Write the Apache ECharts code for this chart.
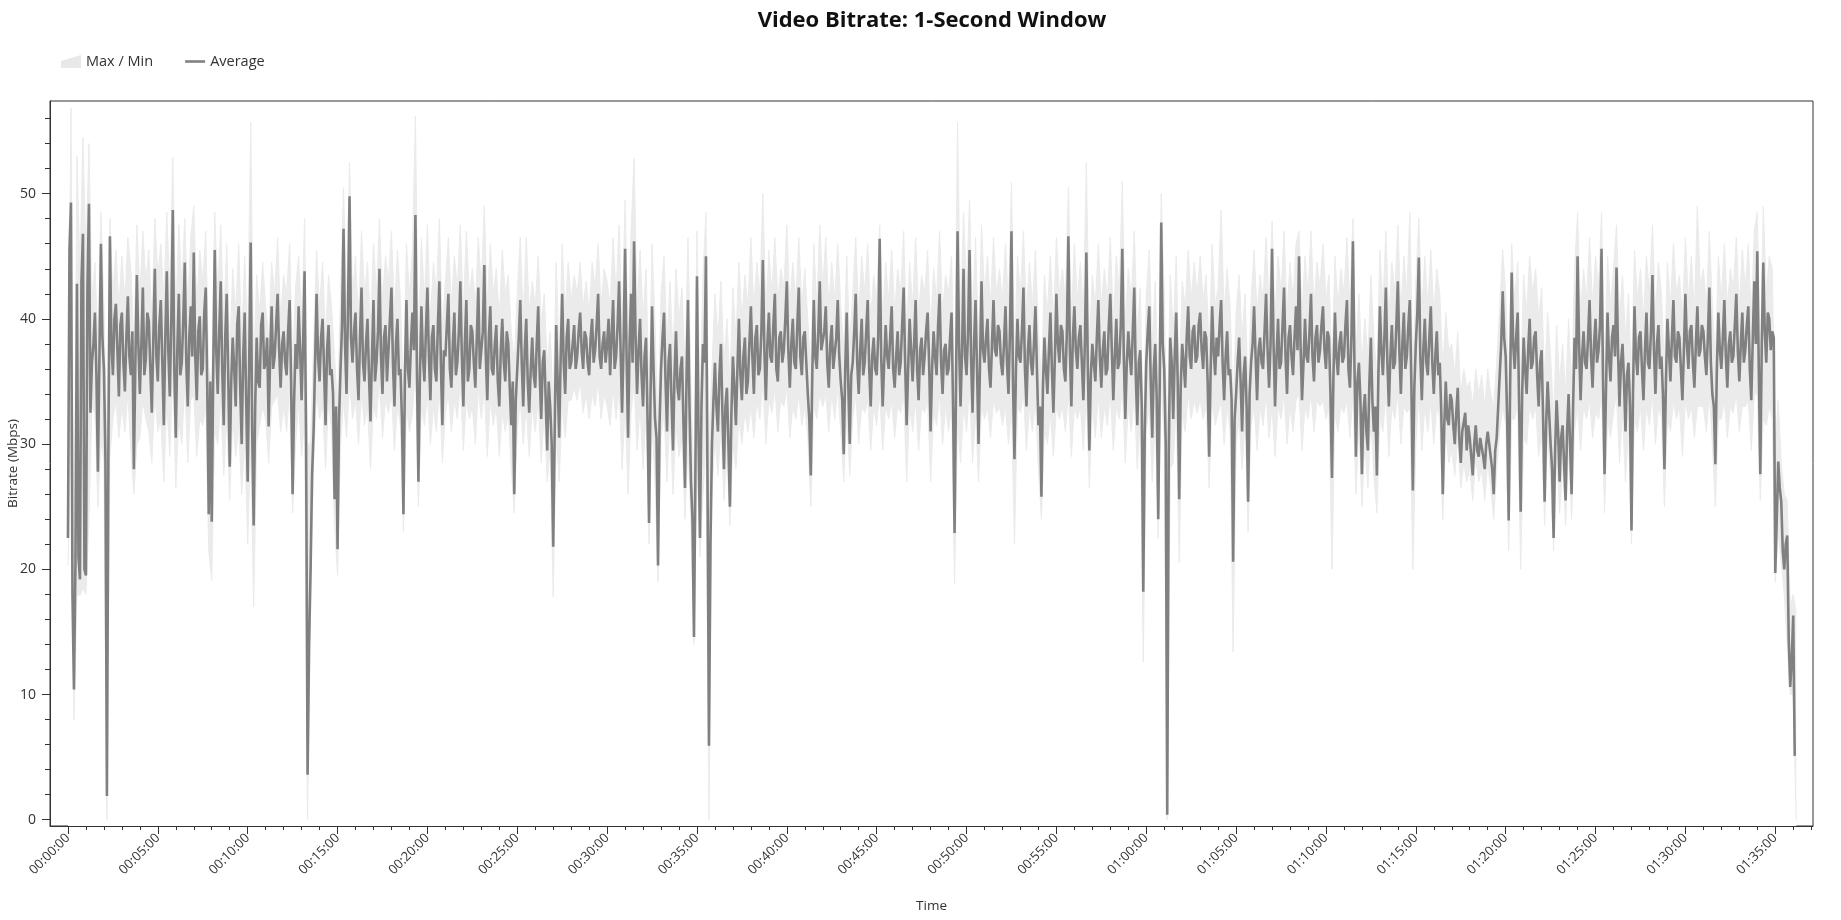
<!DOCTYPE html>
<html><head><meta charset="utf-8">
<script src="https://cdn.jsdelivr.net/npm/echarts@6/dist/echarts.min.js"></script>
<style>html,body{margin:0;padding:0;background:#fff}#chart{width:1841px;height:920px}</style>
</head><body><div id="chart"></div>
<script>
const avgStepSec = 5;
const bandStepSec = 10;

// Average bitrate (Mbps), one row per minute (12 samples each, 5 s apart)
const avgMbps = [
22.5,45.5,49.3,18.0,10.4,20.5,42.8,21.0,19.2,43.0,46.8,20.0,
19.5,42.5,49.2,32.5,36.5,38.0,40.5,35.5,27.8,37.0,46.0,38.5,
36.0,29.0,1.9,30.0,46.6,38.0,35.5,40.0,41.2,37.5,33.8,39.5,
40.5,36.5,34.2,38.5,41.8,37.0,35.5,39.0,28.0,36.5,43.5,38.0,
34.0,38.0,42.5,35.5,36.8,40.5,39.8,36.0,32.5,38.5,44.0,37.0,
35.0,39.5,41.5,36.5,31.5,38.5,43.8,37.5,33.8,40.0,48.7,36.0,
30.5,37.5,42.0,35.5,36.5,40.0,44.5,36.5,33.0,38.5,41.0,37.0,
45.3,37.0,33.5,39.0,40.2,35.5,36.0,40.5,42.5,34.5,24.4,35.0,
23.8,36.0,45.5,37.5,34.0,39.0,43.0,36.0,31.5,38.5,42.0,35.5,
28.2,35.0,38.5,36.0,33.0,39.5,41.0,34.5,30.0,37.0,40.5,33.5,
27.0,36.5,46.1,31.0,23.5,33.0,38.5,35.0,34.5,39.5,40.5,36.0,
36.5,38.5,31.4,37.0,41.0,36.0,37.0,39.5,42.0,37.5,34.5,38.0,
39.0,36.5,35.5,39.0,41.5,35.0,26.0,33.5,38.0,36.0,41.0,37.5,
33.5,38.0,43.8,30.0,3.6,14.0,20.0,27.5,31.0,36.5,42.0,37.0,
35.0,38.5,40.0,36.0,31.5,37.5,39.5,35.5,36.0,34.0,25.6,33.0,
21.6,32.0,36.0,39.5,47.2,38.0,34.0,41.0,49.8,38.5,36.5,39.0,
40.5,36.0,33.5,38.5,42.5,36.5,35.0,38.0,40.0,35.5,31.8,37.0,
41.5,35.0,36.5,39.0,44.0,37.0,34.0,38.5,39.5,35.0,37.5,40.0,
42.5,36.5,33.0,38.0,40.0,35.5,36.0,32.0,24.4,35.5,41.5,36.0,
34.5,38.0,40.5,37.5,48.3,36.0,27.0,35.5,41.0,37.0,35.0,39.0,
42.5,37.0,33.5,38.5,39.5,36.0,35.0,39.5,43.0,36.5,31.5,37.5,
37.0,39.5,42.0,36.0,34.5,38.0,40.5,35.5,36.5,39.0,43.0,37.0,
33.0,38.0,41.5,35.0,36.0,39.5,39.0,36.5,34.5,38.5,42.5,36.0,
36.0,39.0,44.3,37.0,33.5,38.5,41.0,36.0,35.5,38.0,39.5,35.0,
33.0,37.5,40.0,36.5,35.0,39.0,38.0,34.5,31.5,35.0,26.0,33.5,
36.0,38.5,41.5,36.5,33.0,37.5,40.0,35.0,32.5,36.0,38.5,35.5,
34.5,38.0,41.0,35.5,32.0,36.5,37.5,33.5,29.5,35.0,33.0,30.0,
21.8,31.0,39.5,35.0,30.5,37.0,42.0,36.5,34.0,38.5,40.0,36.0,
36.5,38.0,39.5,36.0,37.0,39.0,40.5,37.5,36.0,39.0,38.5,36.5,
35.5,38.5,40.0,36.5,37.5,39.5,42.0,37.0,36.0,38.0,39.0,36.5,
38.0,40.0,35.5,38.5,41.5,36.0,37.0,39.5,43.0,37.5,32.5,38.0,
45.6,37.0,30.5,38.0,42.0,36.5,46.2,38.5,34.0,37.5,40.0,35.5,
33.0,37.0,38.5,32.0,23.7,34.0,41.0,36.0,32.0,30.5,20.3,31.5,
36.0,38.5,40.5,35.0,31.0,36.5,38.0,33.5,29.5,35.5,39.0,34.5,
33.5,36.0,37.0,31.5,26.5,35.0,41.5,33.0,27.0,24.0,14.6,28.5,
43.4,31.0,22.5,33.0,38.0,36.5,45.0,28.0,5.9,22.0,30.0,33.5,
36.5,33.0,31.0,35.5,38.0,32.5,28.0,33.0,34.5,30.0,25.0,32.5,
37.0,34.5,31.5,36.0,40.0,35.5,33.5,37.0,38.5,34.0,35.0,38.0,
41.0,37.0,34.0,38.5,39.5,35.5,36.0,39.0,44.7,37.5,33.5,38.0,
40.5,37.0,36.5,39.5,42.0,36.0,35.0,38.5,39.0,36.5,37.5,40.0,
43.0,37.5,34.5,38.0,40.0,36.5,36.0,39.5,42.5,37.0,35.5,38.5,
39.0,36.5,34.0,32.0,27.5,35.5,41.5,37.0,36.0,39.0,43.0,37.5,
37.5,39.0,41.0,36.5,34.5,38.0,39.5,36.0,36.0,38.5,41.5,37.0,
35.0,33.5,29.2,36.0,40.5,35.0,30.0,35.5,36.5,39.0,42.0,36.5,
34.0,37.5,40.0,35.5,36.5,39.0,41.5,36.0,33.0,37.0,38.5,36.0,
35.5,38.5,46.4,37.0,33.0,36.5,39.5,37.0,36.0,38.5,41.0,36.0,
34.5,37.0,39.0,35.5,36.5,39.5,42.5,36.5,31.5,36.0,40.0,37.5,
35.0,38.0,41.5,36.0,33.5,37.5,38.5,35.5,37.0,39.0,40.5,36.5,
31.0,36.0,39.0,37.0,35.5,39.5,42.0,36.5,34.0,37.5,38.0,35.5,
36.0,38.5,40.5,33.0,22.9,35.0,47.0,38.0,33.0,37.5,44.0,37.0,
35.5,39.0,45.5,37.0,32.5,38.0,41.5,36.0,30.0,36.5,43.0,37.5,
36.5,38.5,40.0,36.0,34.5,38.0,41.5,37.5,37.0,39.5,39.0,36.5,
35.5,38.0,41.0,36.5,34.0,39.0,47.0,35.0,28.8,36.0,40.0,37.0,
36.5,39.0,42.5,36.0,33.0,37.5,39.5,36.5,35.5,38.0,41.0,36.0,
31.5,33.0,25.8,34.5,38.5,36.0,34.0,37.5,40.5,36.0,32.5,37.0,
42.0,38.0,36.5,39.5,39.0,36.0,35.0,39.0,46.6,37.5,33.0,38.5,
41.0,37.5,36.0,38.5,39.5,36.5,33.5,38.0,45.3,36.0,29.5,35.5,
38.0,36.5,35.0,38.5,41.5,37.0,34.5,37.5,39.0,35.5,36.0,39.5,
42.0,37.5,33.5,37.0,40.0,36.0,36.5,39.5,45.6,37.0,32.0,36.5,
39.0,37.0,35.5,39.0,42.5,35.5,31.5,36.5,37.5,33.0,18.2,31.0,
36.5,39.0,41.0,35.0,30.5,36.0,38.0,33.5,24.0,35.0,47.7,38.0,
36.0,30.0,0.4,29.0,38.5,36.5,32.0,37.0,40.5,35.0,25.6,34.5,
38.0,36.5,34.5,38.5,41.0,37.0,36.0,39.0,39.5,36.5,37.0,39.5,
40.5,37.5,36.0,39.0,38.5,35.0,29.0,36.0,41.0,37.5,35.5,38.5,
37.0,39.5,41.5,36.5,33.5,37.0,39.0,35.5,36.0,33.5,20.6,32.0,
34.0,36.5,38.5,35.0,31.0,35.5,37.0,33.0,25.4,34.0,36.5,38.0,
41.0,37.0,33.5,37.5,38.5,36.5,36.0,39.0,42.0,37.5,34.5,38.0,
45.6,38.0,33.0,37.0,40.0,36.0,36.5,39.5,42.5,37.0,34.0,38.5,
39.5,37.0,35.5,38.5,41.0,37.5,45.0,38.0,33.5,36.5,40.0,37.0,
36.5,39.0,42.0,37.0,35.0,38.5,39.5,36.5,37.5,39.5,41.0,37.5,
36.0,39.0,38.5,34.0,27.3,35.5,40.5,37.0,35.5,38.0,39.0,36.5,
37.0,39.5,41.5,36.0,34.5,38.5,46.2,36.5,29.0,35.0,36.5,33.5,
27.6,32.5,34.0,31.0,29.5,35.0,38.5,33.5,31.0,33.0,27.5,35.5,
41.0,37.5,35.5,38.5,42.5,36.5,33.0,37.0,39.5,36.0,36.5,39.5,
43.0,37.5,34.0,38.0,40.5,36.0,37.0,39.5,41.5,35.0,26.3,34.5,
38.0,40.5,44.9,37.0,33.5,37.5,40.0,36.5,35.5,38.5,41.0,36.5,
34.0,37.0,39.0,35.5,36.5,32.5,26.0,31.5,35.0,32.0,31.5,34.0,
33.5,31.5,30.0,32.5,34.5,30.5,28.5,31.0,31.0,32.5,29.5,31.5,
30.5,29.0,27.5,30.0,31.5,29.5,29.0,30.5,30.5,29.0,28.0,30.0,
31.0,30.0,29.0,28.0,26.0,29.5,30.5,33.0,35.5,38.0,42.2,38.5,
37.0,32.0,23.9,35.0,43.7,38.0,36.0,38.5,40.5,33.0,24.6,34.0,
38.5,36.0,34.0,37.5,40.0,36.0,36.5,38.5,39.0,35.5,33.0,36.5,
37.5,32.0,25.4,31.5,35.0,32.5,30.0,28.0,22.5,29.5,33.5,31.0,
27.0,30.5,31.5,28.5,25.5,31.0,34.0,30.0,26.0,33.0,38.5,36.0,
45.0,38.0,33.5,37.0,39.0,36.5,36.0,38.5,41.5,37.0,34.5,38.0,
40.0,36.5,37.5,39.5,45.6,35.0,27.6,34.5,40.5,37.0,35.0,38.5,
39.5,37.0,44.1,37.5,33.0,36.5,38.0,35.0,31.0,35.5,36.5,33.0,
23.1,34.0,41.0,37.0,35.5,38.5,39.0,36.0,33.5,37.5,40.5,36.5,
36.0,39.0,43.5,37.5,34.0,38.0,39.5,36.0,37.0,34.0,28.0,35.0,
40.0,37.5,35.0,38.5,41.5,37.0,36.5,39.0,38.5,36.0,33.5,37.5,
42.0,38.0,36.0,39.0,39.5,36.5,34.5,38.0,41.0,37.0,37.5,39.5,
39.0,37.0,35.5,38.5,42.5,36.5,34.0,33.0,28.4,36.0,40.5,37.5,
36.0,38.5,41.5,37.0,34.5,38.0,39.0,36.5,37.0,39.5,42.0,37.5,
35.0,38.0,40.5,36.5,37.5,39.5,41.0,36.0,33.5,38.5,43.0,38.0,
45.4,36.0,27.6,38.0,44.5,39.0,36.5,40.5,40.0,37.5,39.0,38.5,
19.7,24.0,28.6,26.5,25.4,21.5,20.0,22.0,22.7,14.4,10.6,12.8,
16.3,5.1
];

// Per-sample maximum (Mbps), 10 s apart
const maxMbps = [
30.0,56.8,20.5,53.0,44.0,54.5,
45.0,54.0,41.5,44.5,38.0,48.5,
41.0,30.0,48.0,42.0,45.5,41.0,
45.0,41.5,46.5,44.0,38.0,47.5,
42.0,47.0,43.0,45.5,40.0,48.0,
43.5,46.0,41.5,48.5,42.0,52.9,
40.0,47.5,42.5,48.0,41.0,46.5,
49.0,41.0,45.5,43.0,47.0,36.0,
35.0,48.5,42.0,47.5,40.0,46.0,
37.0,44.0,40.5,46.0,38.5,45.0,
38.0,55.7,36.0,43.5,40.5,44.5,
41.0,38.5,44.5,42.0,46.5,40.0,
43.5,42.0,46.0,36.5,42.5,45.0,
40.0,48.0,30.0,30.0,38.0,45.5,
41.0,44.5,38.5,43.5,41.0,37.0,
33.0,42.0,50.5,41.0,52.5,42.0,
45.0,40.0,47.0,42.0,44.5,39.5,
46.0,42.0,48.0,41.5,45.0,43.0,
47.0,40.5,45.5,41.5,34.0,46.0,
42.0,45.5,56.2,37.5,46.5,41.5,
47.5,40.0,44.5,42.0,48.0,39.0,
43.0,46.5,41.0,45.0,42.5,47.5,
40.5,47.0,42.0,44.0,41.0,46.5,
42.5,49.0,41.0,46.0,42.0,44.0,
40.0,45.5,42.0,43.5,39.0,36.5,
42.0,46.5,40.0,46.5,40.5,43.0,
41.0,45.0,39.5,42.0,36.5,39.0,
33.0,44.5,37.0,46.0,40.5,44.5,
41.5,43.5,42.0,44.5,41.0,43.0,
40.5,44.5,42.5,46.0,41.0,44.0,
43.0,41.0,46.5,42.0,47.5,39.5,
49.5,38.0,47.0,52.8,41.0,45.5,
40.0,44.0,34.0,46.0,39.5,31.0,
42.0,45.0,38.0,43.0,37.0,44.0,
40.0,42.5,36.0,46.5,35.0,26.0,
47.0,33.0,43.5,48.5,30.0,36.0,
42.0,38.5,43.0,36.5,40.0,35.0,
42.5,38.5,44.5,40.0,43.5,41.0,
46.5,41.0,44.5,42.0,50.0,40.5,
45.5,42.0,46.5,41.5,44.0,42.5,
47.5,41.0,44.5,41.5,46.5,41.0,
44.0,40.0,36.0,46.0,41.0,47.5,
42.5,46.5,41.0,44.5,41.5,46.0,
41.0,37.5,45.0,38.0,42.0,46.5,
40.5,45.0,42.0,46.0,40.0,43.5,
41.5,47.5,40.0,44.5,41.5,45.5,
40.5,44.0,42.0,47.0,39.0,44.5,
41.0,46.5,40.5,43.5,42.0,45.5,
39.0,44.0,41.5,47.0,40.5,43.5,
42.0,45.0,34.0,55.7,40.0,48.5,
42.5,49.5,40.0,46.5,38.0,47.5,
42.0,45.0,41.0,46.5,42.0,44.0,
41.5,46.0,41.0,50.9,37.0,45.0,
42.0,47.0,40.5,44.5,41.0,45.5,
39.0,35.0,43.5,40.5,45.0,39.5,
46.5,42.0,44.0,41.5,50.5,40.0,
46.0,41.5,44.5,40.5,52.5,38.0,
43.5,41.0,46.0,41.0,44.0,41.5,
46.5,40.0,45.0,42.0,51.0,39.5,
44.0,41.5,47.0,39.0,42.5,30.0,
42.0,45.5,38.0,43.0,34.0,50.0,
42.0,30.0,43.5,39.0,45.0,35.0,
43.0,41.0,45.5,41.5,44.5,42.0,
45.0,41.5,43.5,37.5,46.0,41.0,
42.5,48.7,40.5,44.0,41.0,33.0,
40.5,43.5,38.5,42.0,34.0,41.5,
45.5,40.5,43.5,41.5,46.5,41.0,
47.8,40.0,45.0,42.0,47.0,40.5,
44.5,41.5,46.0,47.0,40.5,45.0,
42.0,47.0,41.0,44.5,42.5,46.0,
41.5,43.5,36.0,45.0,41.0,44.0,
42.0,46.5,41.0,48.0,37.0,42.0,
36.5,40.0,37.0,43.5,38.5,35.5,
45.5,41.0,47.0,40.0,44.5,42.0,
47.5,40.5,45.0,42.0,48.5,36.0,
43.0,48.0,40.5,45.0,41.0,45.5,
40.5,44.0,42.0,36.0,40.5,37.5,
38.0,35.5,39.0,34.0,36.0,34.5,
35.0,33.0,36.0,34.0,35.5,33.0,
36.0,34.0,33.0,36.5,41.0,45.5,
42.0,35.0,46.0,41.5,44.5,35.0,
43.5,40.5,45.0,42.0,44.0,40.0,
42.5,35.0,40.5,37.0,32.0,39.5,
35.0,38.0,34.0,40.0,34.5,44.0,
48.5,40.5,44.0,41.5,46.5,41.0,
45.0,42.5,48.5,36.0,45.0,41.0,
44.0,47.5,40.0,43.5,38.5,42.0,
35.0,45.5,41.5,44.0,40.0,45.0,
42.0,47.5,40.5,44.5,42.0,36.0,
44.5,41.0,46.0,42.0,43.5,40.0,
46.5,41.5,45.0,40.5,49.0,42.5,
44.0,41.0,47.0,41.0,36.5,45.0,
41.5,46.0,41.0,44.0,42.5,46.5,
41.0,45.5,42.5,46.0,40.0,47.0,
48.5,36.0,49.0,42.0,45.0,44.0,
30.0,33.5,28.5,26.0,25.5,17.0,
18.0,16.5
];

// Per-sample minimum (Mbps), 10 s apart
const minMbps = [
20.3,31.0,8.0,18.0,17.9,18.5,
18.0,24.0,33.0,32.5,25.0,30.5,
28.5,0.0,29.0,32.0,33.5,30.5,
33.0,31.0,34.0,29.5,26.0,30.0,
30.5,33.5,32.0,31.0,28.5,34.0,
31.0,32.0,27.0,33.5,29.0,36.0,
26.5,32.0,30.0,35.0,28.5,33.5,
34.0,29.0,32.0,31.5,33.0,21.5,
19.1,31.0,30.0,33.5,27.5,32.0,
25.5,32.0,29.0,31.5,26.0,30.5,
22.0,30.0,17.0,30.0,31.5,33.0,
32.0,28.5,33.0,33.5,34.0,31.0,
33.0,31.0,34.5,24.5,30.0,33.5,
29.0,32.0,0.0,18.5,28.5,34.0,
32.0,33.0,28.0,33.5,31.0,23.5,
19.5,30.0,33.5,30.5,35.0,32.0,
33.5,30.0,34.0,31.5,33.0,28.0,
33.0,32.0,35.0,30.5,33.5,32.5,
34.0,29.5,33.0,31.5,23.0,33.0,
31.0,32.5,36.0,25.0,33.0,31.5,
34.0,30.0,33.0,31.0,34.5,28.5,
32.5,34.0,31.0,33.5,32.0,35.0,
29.5,33.5,32.0,33.0,30.0,34.5,
32.0,34.5,29.0,33.5,31.5,33.0,
29.0,32.5,31.0,32.5,28.0,24.5,
31.0,33.5,30.0,33.0,29.0,33.0,
31.0,33.5,28.5,32.5,27.0,29.5,
17.8,31.0,27.0,33.0,30.5,33.5,
33.5,34.5,33.5,35.0,32.5,34.0,
32.0,34.0,33.0,35.0,32.0,34.0,
33.0,31.5,34.5,32.0,34.5,28.0,
33.0,26.0,32.5,35.0,29.5,33.0,
28.0,32.5,22.0,31.5,27.0,19.0,
30.5,32.5,27.0,32.5,26.0,31.5,
29.0,30.5,24.0,30.0,23.5,14.0,
28.5,21.0,26.0,30.0,0.0,26.0,
30.5,27.5,31.5,25.5,29.0,23.5,
30.0,28.0,32.0,30.0,32.5,31.0,
33.0,30.5,33.5,32.0,35.0,30.0,
33.5,32.5,34.5,31.0,33.5,33.0,
34.5,30.5,33.0,32.0,34.0,31.5,
33.0,30.5,25.0,33.0,32.0,34.0,
33.0,34.0,31.0,34.0,32.0,34.5,
31.0,27.0,32.5,27.5,32.0,34.0,
30.0,33.0,32.5,33.5,29.5,33.0,
31.5,34.0,29.5,33.0,32.0,33.5,
30.5,33.0,32.5,34.0,27.0,33.0,
31.0,33.5,29.5,33.0,32.5,33.5,
27.0,32.5,31.5,34.0,30.0,33.0,
31.0,33.0,18.8,32.0,28.5,33.0,
31.0,34.5,28.5,32.5,27.0,33.0,
32.0,33.0,30.5,33.5,32.5,33.0,
31.5,33.0,30.0,33.0,22.0,33.0,
32.5,34.0,29.5,33.0,31.0,33.5,
28.0,24.0,31.0,30.0,32.5,29.0,
33.0,32.0,33.0,31.0,34.0,29.0,
33.0,32.0,33.0,29.5,34.0,26.5,
33.0,30.5,34.0,30.5,33.0,31.5,
34.0,29.5,33.0,32.0,34.5,28.5,
33.0,31.0,34.0,28.0,32.0,12.6,
31.0,33.0,27.0,32.0,22.5,35.0,
30.0,0.0,28.0,28.5,33.0,20.5,
32.5,31.0,34.0,32.0,33.5,32.5,
33.5,32.0,33.0,26.5,33.5,31.5,
32.5,33.5,30.0,33.0,31.0,13.4,
30.0,32.0,28.0,32.0,23.0,31.5,
33.0,29.5,33.0,31.5,34.0,30.5,
33.0,29.0,33.0,32.0,34.0,30.0,
33.0,31.0,33.5,34.0,29.5,33.0,
32.0,34.0,31.0,33.5,33.0,33.5,
32.0,33.0,20.0,32.5,31.0,33.0,
32.5,33.5,30.5,34.0,26.0,31.5,
25.0,30.0,26.5,32.0,27.5,24.5,
32.0,31.0,34.0,29.0,33.0,32.0,
34.0,30.0,33.0,32.5,33.0,20.0,
30.0,34.0,29.5,33.0,31.0,33.5,
30.0,33.0,32.0,24.0,31.0,28.5,
29.5,27.5,30.5,26.5,28.5,27.0,
28.0,25.5,29.0,27.0,28.0,25.5,
28.5,26.5,24.0,28.0,31.0,33.0,
31.5,21.5,32.0,32.0,33.0,20.0,
30.5,30.0,33.0,32.0,33.0,29.0,
31.0,23.5,31.0,27.0,21.5,29.5,
24.5,28.5,23.5,30.0,24.0,31.0,
33.0,29.5,33.0,32.0,33.5,30.5,
32.5,32.0,34.0,24.5,32.0,30.5,
32.5,34.0,28.5,32.5,27.0,31.5,
22.0,32.0,31.0,33.0,29.5,33.0,
31.5,34.0,30.0,33.0,32.0,25.0,
32.0,31.0,33.5,32.0,33.0,29.0,
33.5,32.0,33.0,30.5,33.0,33.0,
33.0,31.0,34.0,30.0,25.0,32.0,
32.0,33.5,30.5,33.0,32.5,34.0,
31.0,33.0,33.0,33.5,29.5,34.0,
34.0,25.5,32.0,31.5,33.0,32.0,
19.0,23.0,20.5,18.0,14.0,10.0,
10.0,0.0
];

// Axis ticks
const yLabelValues = [0, 10, 20, 30, 40, 50];
const yMinorValues = [0,2,4,6,8,10,12,14,16,18,20,22,24,26,28,30,32,34,36,38,40,42,44,46,48,50,52,54,56];
const xLabelSeconds = [0,300,600,900,1200,1500,1800,2100,2400,2700,3000,3300,3600,3900,4200,4500,4800,5100,5400,5700];
const xMinorSeconds = [];
for (let s = 0; s <= 5820; s += 60) xMinorSeconds.push(s);

const avgData = avgMbps.map((v, i) => [i * avgStepSec, v]);
const maxData = maxMbps.map((v, i) => [i * bandStepSec, v]);
const minData = minMbps.map((v, i) => [i * bandStepSec, v]);

function hms(v) {
  const s = Math.round(v);
  const h = Math.floor(s / 3600), m = Math.floor((s % 3600) / 60), sec = s % 60;
  const p = n => String(n).padStart(2, '0');
  return p(h) + ':' + p(m) + ':' + p(sec);
}

const FONT = '"Open Sans", "Noto Sans", sans-serif';
const X_MIN = -60, X_MAX = 5826, Y_MIN = -0.5, Y_MAX = 57.4;
const AX = '#333';

const chart = echarts.init(document.getElementById('chart'), null, { renderer: 'canvas' });
chart.setOption({
  animation: false,
  backgroundColor: '#ffffff',
  textStyle: { fontFamily: FONT },
  title: {
    text: 'Video Bitrate: 1-Second Window',
    left: 927, top: 5, textAlign: 'center',
    textStyle: { fontFamily: FONT, fontSize: 22, fontWeight: 'bold', color: '#111' }
  },
  legend: {
    left: 56, top: 49, itemWidth: 20, itemHeight: 14, itemGap: 32,
    textStyle: { fontFamily: FONT, fontSize: 14.5, color: '#333' },
    data: [
      { name: 'Max / Min', icon: 'path://M0,6L20,0L20,13L0,13Z', itemStyle: { color: '#e8e8e8' } },
      { name: 'Average', icon: 'path://M0,0L20,0L20,2.6L0,2.6Z', itemStyle: { color: '#808080' } }
    ]
  },
  grid: { left: 50, right: 28, top: 101, bottom: 94, show: true, borderColor: AX, borderWidth: 1, outerBoundsMode: 'none' },
  xAxis: [
    {
      type: 'value', min: X_MIN, max: X_MAX, z: 5,
      name: 'Time', nameLocation: 'middle', nameGap: 73, nameMoveOverlap: false,
      nameTextStyle: { fontFamily: FONT, fontSize: 13.5, color: '#333' },
      axisLine: { onZero: false, lineStyle: { color: AX } },
      axisTick: { customValues: xLabelSeconds, length: 8, lineStyle: { color: AX } },
      axisLabel: { customValues: xLabelSeconds, rotate: 45, margin: 10, formatter: hms, fontFamily: FONT, fontSize: 13, color: '#333' },
      splitLine: { show: false }
    },
    {
      type: 'value', min: X_MIN, max: X_MAX, position: 'bottom', z: 5,
      axisLine: { show: false, onZero: false },
      axisTick: { customValues: xMinorSeconds, length: 4, lineStyle: { color: AX } },
      axisLabel: { show: false }, splitLine: { show: false }
    }
  ],
  yAxis: [
    {
      type: 'value', min: Y_MIN, max: Y_MAX, z: 5,
      name: 'Bitrate (Mbps)', nameLocation: 'middle', nameGap: 30, nameMoveOverlap: false,
      nameTextStyle: { fontFamily: FONT, fontSize: 13.5, color: '#333' },
      axisLine: { show: true, onZero: false, lineStyle: { color: AX } },
      axisTick: { show: true, customValues: yLabelValues, length: 8, lineStyle: { color: AX } },
      axisLabel: { customValues: yLabelValues, margin: 14, fontFamily: FONT, fontSize: 14, color: '#333' },
      splitLine: { show: false }
    },
    {
      type: 'value', min: Y_MIN, max: Y_MAX, position: 'left', z: 5,
      axisLine: { show: false, onZero: false },
      axisTick: { show: true, customValues: yMinorValues, length: 5, lineStyle: { color: AX } },
      axisLabel: { show: false }, splitLine: { show: false }
    }
  ],
  series: [
    {
      name: 'Max / Min', type: 'line', data: maxData, symbol: 'none', silent: true,
      lineStyle: { color: '#ebebeb', width: 1 }, areaStyle: { color: '#ebebeb', opacity: 1, origin: 'start' },
      itemStyle: { color: '#e8e8e8' }, z: 1
    },
    {
      name: 'minMask', type: 'line', data: minData, symbol: 'none', silent: true,
      lineStyle: { color: '#ebebeb', width: 1 }, areaStyle: { color: '#ffffff', opacity: 1, origin: 'start' }, z: 2
    },
    {
      name: 'Average', type: 'line', data: avgData, symbol: 'none', silent: true,
      lineStyle: { color: '#808080', width: 2.6 }, itemStyle: { color: '#808080' }, z: 3
    }
  ]
});
</script>
</body></html>
